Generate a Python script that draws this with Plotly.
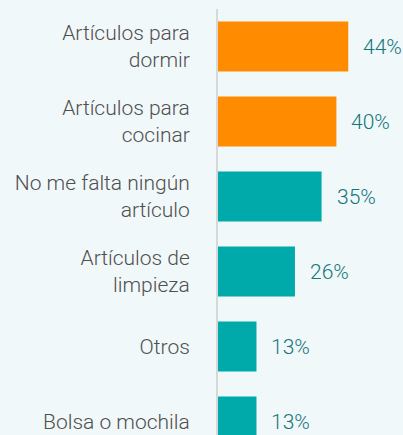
import plotly.graph_objects as go

categories = ["Artículos para<br>dormir", "Artículos para<br>cocinar", "No me falta ningún<br>artículo",
              "Artículos de<br>limpieza", "Otros", "Bolsa o mochila"]
values = [44, 40, 35, 26, 13, 13]
labels = ["44%", "40%", "35%", "26%", "13%", "13%"]
colors = ["#FF8C00", "#FF8C00", "#00AAAA", "#00AAAA", "#00AAAA", "#00AAAA"]

FONT = "Roboto, sans-serif"

fig = go.Figure()
fig.add_trace(go.Bar(
    y=categories, x=values, orientation="h",
    marker=dict(color=colors, line=dict(width=0)),
    hoverinfo="skip",
))

for c, v, t in zip(categories, values, labels):
    fig.add_annotation(x=v, y=c, text=t, showarrow=False, xanchor="left", xshift=13,
                       font=dict(family=FONT, size=21, color="#12767C", weight=300))

fig.update_layout(
    width=403, height=435,
    margin=dict(l=218, r=0, t=9, b=0),
    paper_bgcolor="#F1F8F9", plot_bgcolor="#F1F8F9",
    bargap=1/3, showlegend=False,
    xaxis=dict(range=[0, 62.5], visible=False, fixedrange=True),
    yaxis=dict(range=[5.18, -0.5], showline=True, linecolor="#D6D9DA", linewidth=2,
               layer="below traces", showgrid=False, zeroline=False, ticks="",
               ticklabelstandoff=22,
               tickfont=dict(family=FONT, size=21, color="#4F4F4F", weight=300), fixedrange=True),
)

fig.write_html("out.html", config={"displayModeBar": False},
               post_script="document.body.style.margin='0';document.body.style.overflow='hidden';")
